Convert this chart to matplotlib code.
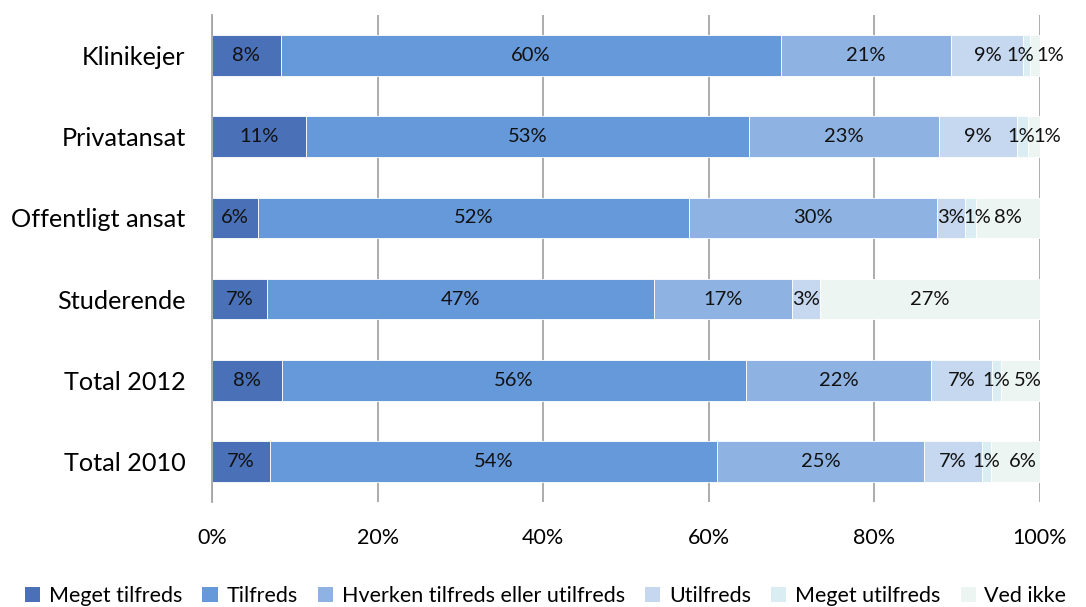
import matplotlib
matplotlib.use("Agg")
import matplotlib.pyplot as plt
import numpy as np

plt.rcParams['font.family'] = ['Lato', 'DejaVu Sans']

categories = ["Klinikejer", "Privatansat", "Offentligt ansat", "Studerende", "Total 2012", "Total 2010"]
series_names = ["Meget tilfreds", "Tilfreds", "Hverken tilfreds eller utilfreds",
                "Utilfreds", "Meget utilfreds", "Ved ikke"]

meget_tilfreds = [8.3, 11.4, 5.6, 6.6, 8.4, 7.0]
tilfreds = [60.4, 53.4, 52.0, 46.8, 56.1, 54.0]
hverken = [20.6, 23.0, 29.9, 16.6, 22.3, 25.0]
utilfreds = [8.7, 9.4, 3.4, 3.4, 7.4, 7.0]
meget_utilfreds = [0.8, 1.4, 1.4, 0.0, 1.1, 1.1]
ved_ikke = [1.2, 1.4, 7.7, 26.6, 4.7, 5.9]

xtick_values = [0, 20, 40, 60, 80, 100]
xtick_labels = ["0%", "20%", "40%", "60%", "80%", "100%"]

colors = ["#4A71B7", "#6699D9", "#8EB3E2", "#C6D8F0", "#DAEDF3", "#EDF5F2"]

# small label nudges (pixels) for crowded labels: (row, series) -> dx
nudges = {(0, 4): -6.5, (0, 5): 15, (1, 4): -1, (1, 5): 13, (2, 4): 7,
          (4, 5): 7, (5, 5): 7}

data = [meget_tilfreds, tilfreds, hverken, utilfreds, meget_utilfreds, ved_ikke]

fig = plt.figure(figsize=(10.86, 6.07), dpi=100)
ax = fig.add_axes([212/1086, 1-502/607, 828/1086, 487/607])

y = np.arange(len(categories))
left = np.zeros(len(categories))
for s, (vals, col, name) in enumerate(zip(data, colors, series_names)):
    vals = np.array(vals)
    ax.barh(y, vals, left=left, height=0.5, color=col, edgecolor="white",
            linewidth=0.6, label=name, zorder=3)
    for i, v in enumerate(vals):
        if v <= 0:
            continue
        dx = nudges.get((i, s), 0) * 0.72
        ax.annotate(f"{v:.0f}%", xy=(left[i] + v/2, y[i]), xytext=(dx, 0),
                    textcoords="offset points", ha="center", va="center",
                    fontsize=14.5, color="#111111", zorder=5, annotation_clip=False)
    left += vals

ax.set_xlim(0, 100)
ax.set_ylim(len(categories) - 0.5, -0.5)
ax.set_yticks(y)
ax.set_yticklabels(categories, fontsize=18.2)
ax.set_xticks(xtick_values)
ax.set_xticklabels(xtick_labels, fontsize=15.5)
ax.tick_params(axis="both", length=0)
ax.tick_params(axis="x", pad=19)
ax.tick_params(axis="y", pad=19)
ax.grid(axis="x", color="#A6A6A6", linewidth=1.3, zorder=0)
for sp in ["top", "right", "bottom"]:
    ax.spines[sp].set_visible(False)
ax.spines["left"].set_color("#A6A6A6")
ax.spines["left"].set_linewidth(1.3)
ax.spines["left"].set_zorder(4)

leg = fig.legend(loc="center left", bbox_to_anchor=(0.023, 0.018), ncol=6,
                 frameon=False, fontsize=15.5, handlelength=0.7, handleheight=0.7,
                 handletextpad=0.4, columnspacing=0.95, borderaxespad=0, borderpad=0)
for h in leg.legend_handles:
    h.set_edgecolor("none")

fig.savefig("out.png", dpi=100)
